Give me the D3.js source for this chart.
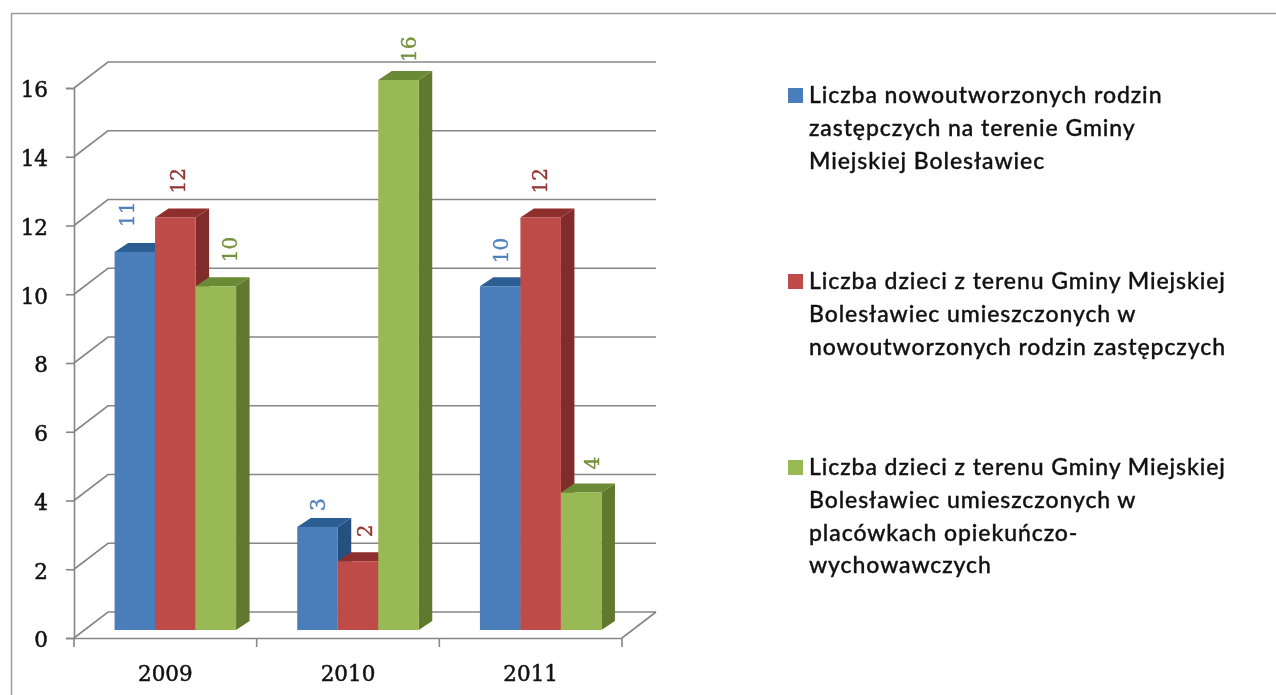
<!DOCTYPE html>
<html>
<head>
<meta charset="utf-8">
<script src="https://cdn.jsdelivr.net/npm/d3@7"></script>
<style>
    html, body { margin: 0; padding: 0; background: #fff; overflow: hidden; }
    svg { display: block; filter: blur(0.45px); }
    text { font-family: "DejaVu Serif", serif; }
    .legend text {
        font-family: Lato, sans-serif; font-weight: 500; font-size: 23px; letter-spacing: 0.92px;
        fill: #111; stroke: #111; stroke-width: 0.35px;
    }
</style>
</head>
<body>
<div id="chart"></div>
<script>
const years = ["2009", "2010", "2011"];
const seriesNew = [11, 3, 10];
const seriesChildren = [12, 2, 12];
const seriesInstitutions = [10, 16, 4];
const yTicks = [0, 2, 4, 6, 8, 10, 12, 14, 16];
const legendOne = ["Liczba nowoutworzonych rodzin", "zastępczych na terenie Gminy", "Miejskiej Bolesławiec"];
const legendTwo = ["Liczba dzieci z terenu Gminy Miejskiej", "Bolesławiec umieszczonych w", "nowoutworzonych rodzin zastępczych"];
const legendThree = ["Liczba dzieci z terenu Gminy Miejskiej", "Bolesławiec umieszczonych w", "placówkach opiekuńczo-", "wychowawczych"];

const width = 1276;
const height = 695;
const margin = { top: 88, left: 74, right: 654, bottom: 57 };

// offsets of the fake 3d look
const wall = { x: 34, y: -26 };
const depth = { x: 13.5, y: -9 };
const floor = { x: 10, y: -8 };

// the value labels are not lined up on the bars in the original: [dx from bar centre, gap above bar]
const labelNudgeNew = [[-8, 25], [0, 16], [0, 23]];
const labelNudgeChildren = [[2, 24], [6, 24], [-1, 24]];
const labelNudgeInstitutions = [[14, 24], [10, 18], [10, 23]];

const series = [
    { values: seriesNew, nudge: labelNudgeNew, front: "#4a7ebb", top: "#2c5d93", side: "#26507f", label: "#4f81bd", legend: legendOne, legendY: 96 },
    { values: seriesChildren, nudge: labelNudgeChildren, front: "#be4b48", top: "#8f2f2d", side: "#7f2c2a", label: "#953735", legend: legendTwo, legendY: 282 },
    { values: seriesInstitutions, nudge: labelNudgeInstitutions, front: "#98b954", top: "#6a8a35", side: "#60792f", label: "#76923c", legend: legendThree, legendY: 468 }
];

const svg = d3.select("#chart")
    .append("svg")
    .attr("width", width)
    .attr("height", height);

// frame of the picture
svg.append("path")
    .attr("d", `M11.5,${height} V13.5 H${width}`)
    .attr("fill", "none")
    .attr("stroke", "#9a9a9a")
    .attr("stroke-width", 1.5);

/*
SCALES
*/
const xScale = d3.scaleBand()
    .domain(years)
    .range([margin.left, width - margin.right]);

const yScale = d3.scaleLinear()
    .domain([0, 16])
    .range([height - margin.bottom, margin.top]);

const barScale = d3.scaleBand()
    .domain(d3.range(series.length))
    .range([0, 121.5]);

const plotRight = width - margin.right;
const gridColor = "#868686";

/*
GRID LINES AND WALLS
*/
const grid = svg.append("g")
    .attr("fill", "none")
    .attr("stroke", gridColor)
    .attr("stroke-width", 1.6);

grid.selectAll("polyline")
    .data(yTicks)
    .enter()
    .append("polyline")
    .attr("points", d => [
        [margin.left, yScale(d)],
        [margin.left + wall.x, yScale(d) + wall.y],
        [plotRight + wall.x, yScale(d) + wall.y]
    ].join(" "));

// floor edge on the right
grid.append("line")
    .attr("x1", plotRight)
    .attr("y1", yScale(0))
    .attr("x2", plotRight + wall.x)
    .attr("y2", yScale(0) + wall.y);

/*
AXES
*/
const xAxis = svg.append("g")
    .attr("transform", `translate(0,${height - margin.bottom})`)
    .call(d3.axisBottom(xScale).tickSize(0).tickPadding(28));

// d3.axisBottom puts its ticks in the middle of a band, here they sit between bands
xAxis.selectAll(".sep")
    .data(d3.range(years.length + 1))
    .enter()
    .append("line")
    .attr("class", "sep")
    .attr("x1", i => margin.left + i * xScale.step())
    .attr("x2", i => margin.left + i * xScale.step())
    .attr("y1", 0)
    .attr("y2", 9)
    .attr("stroke", gridColor)
    .attr("stroke-width", 1.6);

const yAxis = svg.append("g")
    .attr("transform", `translate(${margin.left},0)`)
    .call(d3.axisLeft(yScale).tickValues(yTicks).tickSize(8).tickPadding(18));

svg.selectAll(".domain")
    .attr("stroke", gridColor)
    .attr("stroke-width", 1.6);

yAxis.selectAll(".tick line")
    .attr("stroke", gridColor)
    .attr("stroke-width", 1.6);

svg.selectAll(".tick text")
    .attr("font-family", "DejaVu Serif")
    .attr("font-size", 21.5)
    .attr("fill", "#111")
    .attr("stroke", "#111")
    .attr("stroke-width", 0.5);

yAxis.selectAll(".tick text").attr("transform", "translate(0,2)");

/*
BARS
*/
function barLeft(year, s) {
    return xScale(year) + (xScale.bandwidth() - barScale.range()[1]) / 2 + floor.x + barScale(s);
}

function barTop(v) {
    return yScale(v) + floor.y;
}

series.forEach(function (s, si) {
    const g = svg.append("g").attr("class", "series");
    const w = barScale.bandwidth();
    const rows = years.map((year, i) => ({ year: year, value: s.values[i] }));

    // side face
    g.selectAll(".side")
        .data(rows)
        .enter()
        .append("polygon")
        .attr("fill", s.side)
        .attr("points", d => {
            const x = barLeft(d.year, si) + w;
            const y0 = barTop(0);
            const y1 = barTop(d.value);
            return [[x, y0], [x + depth.x, y0 + depth.y], [x + depth.x, y1 + depth.y], [x, y1]].join(" ");
        });

    // top face
    g.selectAll(".top")
        .data(rows)
        .enter()
        .append("polygon")
        .attr("fill", s.top)
        .attr("points", d => {
            const x = barLeft(d.year, si);
            const y = barTop(d.value);
            return [[x, y], [x + w, y], [x + w + depth.x, y + depth.y], [x + depth.x, y + depth.y]].join(" ");
        });

    // front face
    g.selectAll(".front")
        .data(rows)
        .enter()
        .append("rect")
        .attr("fill", s.front)
        .attr("x", d => barLeft(d.year, si))
        .attr("y", d => barTop(d.value))
        .attr("width", w)
        .attr("height", d => barTop(0) - barTop(d.value));
});

// value labels go on last so no bar covers them
series.forEach(function (s, si) {
    const w = barScale.bandwidth();
    svg.append("g").selectAll("text")
        .data(years.map((year, i) => ({ year: year, value: s.values[i], nudge: s.nudge[i] })))
        .enter()
        .append("text")
        .attr("transform", d => `translate(${barLeft(d.year, si) + w / 2 + d.nudge[0] + 7.5},${barTop(d.value) - d.nudge[1]}) rotate(-90)`)
        .attr("font-size", 20)
        .attr("fill", s.label)
        .attr("stroke", s.label)
        .attr("stroke-width", 0.4)
        .text(d => d.value);
});

/*
LEGEND
*/
const legend = svg.append("g").attr("class", "legend");

series.forEach(function (s) {
    legend.append("rect")
        .attr("x", 788)
        .attr("y", s.legendY - 8)
        .attr("width", 15)
        .attr("height", 15)
        .attr("fill", s.front)
        .attr("stroke", "none");

    legend.selectAll(null)
        .data(s.legend)
        .enter()
        .append("text")
        .attr("x", 809)
        .attr("y", (d, i) => s.legendY + 7 + i * 32.8)
        .text(d => d);
});
</script>
</body>
</html>
